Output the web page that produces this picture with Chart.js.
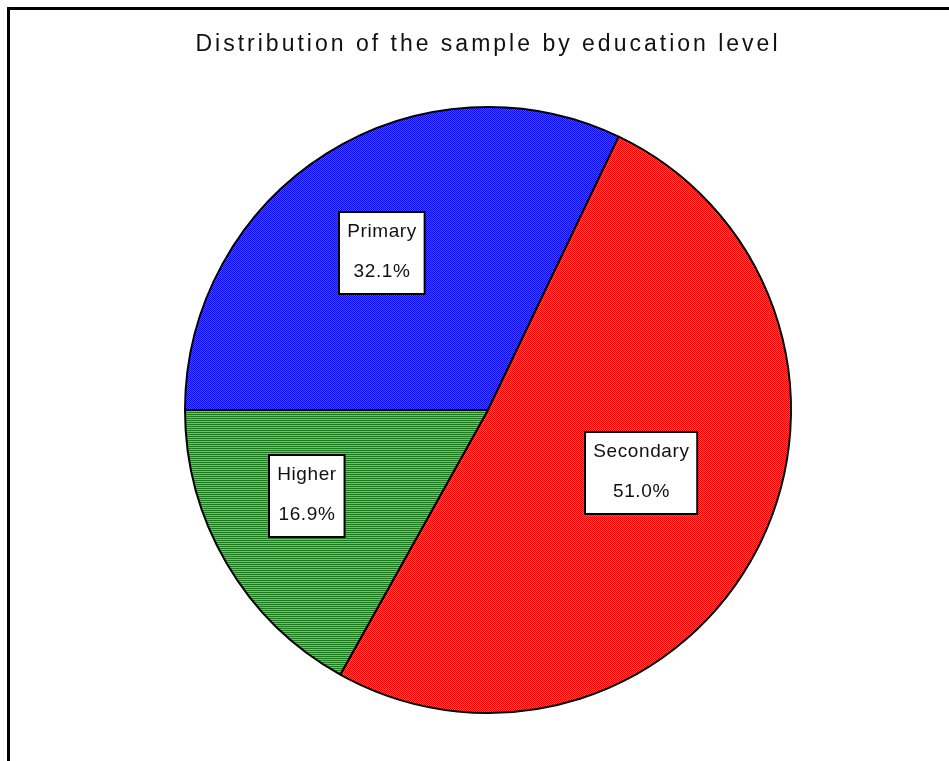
<!DOCTYPE html>
<html>
<head>
<meta charset="utf-8">
<script src="https://cdn.jsdelivr.net/npm/chart.js@4/dist/chart.umd.min.js"></script>
<style>
  html, body { margin: 0; padding: 0; background: #fff; overflow: hidden; }
  #wrap { position: relative; width: 949px; height: 761px; }
  #frame { position: absolute; left: 7px; top: 7px; width: 1000px; height: 900px; border: 3px solid #000; pointer-events: none; }
</style>
</head>
<body>
<div id="wrap">
  <canvas id="pie"></canvas>
  <div id="frame"></div>
</div>
<script>
const categories = ['Primary', 'Secondary', 'Higher'];
const shares = [32.1, 51.0, 16.9];
const chartTitle = 'Distribution of the sample by education level';

// little tiles for the dithered fills
function makePattern(c1, c2, kind) {
  const t = document.createElement('canvas');
  t.width = 2; t.height = 2;
  const g = t.getContext('2d');
  g.fillStyle = c1; g.fillRect(0, 0, 2, 2);
  g.fillStyle = c2;
  if (kind === 'checker') { g.fillRect(1, 0, 1, 1); g.fillRect(0, 1, 1, 1); }
  else { g.fillRect(0, 1, 2, 1); }
  return g.createPattern(t, 'repeat');
}

const fills = [
  makePattern('#0a0aff', '#4a4aff', 'checker'),
  makePattern('#ff0000', '#ff5454', 'checker'),
  makePattern('#1e7a1e', '#74bc74', 'stripes')
];

const boxLabels = {
  id: 'boxLabels',
  beforeDraw(chart) { chart.ctx.letterSpacing = '3px'; },
  beforeDatasetsDraw(chart) { chart.ctx.letterSpacing = '0px'; },
  afterDatasetsDraw(chart, args, opts) {
    const ctx = chart.ctx;
    const meta = chart.getDatasetMeta(0);
    ctx.save();
    ctx.font = '19px "Liberation Sans", Arial, sans-serif';
    ctx.letterSpacing = '0.6px';
    ctx.textAlign = 'center';
    ctx.textBaseline = 'middle';
    meta.data.forEach((arc, i) => {
      const p = arc.getProps(['x', 'y', 'startAngle', 'endAngle', 'outerRadius'], true);
      const mid = (p.startAngle + p.endAngle) / 2 + opts.shift[i] * Math.PI / 180;
      const d = p.outerRadius * opts.radial[i];
      const cx = p.x + Math.cos(mid) * d;
      const cy = p.y + Math.sin(mid) * d;
      const l1 = chart.data.labels[i];
      const l2 = chart.data.datasets[0].data[i].toFixed(1) + '%';
      const w = Math.max(ctx.measureText(l1).width, ctx.measureText(l2).width) + 16;
      const h = 82;
      const x0 = Math.round(cx - w / 2), y0 = Math.round(cy - h / 2);
      ctx.fillStyle = '#fff';
      ctx.fillRect(x0, y0, w, h);
      ctx.lineWidth = 2;
      ctx.strokeStyle = '#000';
      ctx.strokeRect(x0, y0, w, h);
      ctx.fillStyle = '#111';
      ctx.fillText(l1, cx, y0 + 20);
      ctx.fillText(l2, cx, y0 + 60);
    });
    ctx.restore();
  }
};

new Chart(document.getElementById('pie'), {
  type: 'pie',
  data: {
    labels: categories,
    datasets: [{
      data: shares,
      backgroundColor: fills,
      borderColor: '#000',
      borderWidth: 2,
      hoverOffset: 0,
      offset: 0
    }]
  },
  options: {
    responsive: true,
    maintainAspectRatio: false,
    animation: false,
    rotation: -90,
    layout: { padding: { left: 27, right: 0, top: 20, bottom: 47 } },
    events: [],
    plugins: {
      legend: { display: false },
      tooltip: { enabled: false },
      title: {
        display: true,
        text: chartTitle,
        color: '#111',
        font: { family: '"Liberation Sans", Arial, sans-serif', size: 23, weight: 'normal' },
        padding: { top: 11, bottom: 47.4 }
      },
      boxLabels: { radial: [0.625, 0.548, 0.661], shift: [-1.8, -4.9, 5.1] }
    }
  },
  plugins: [boxLabels]
});
</script>
</body>
</html>
